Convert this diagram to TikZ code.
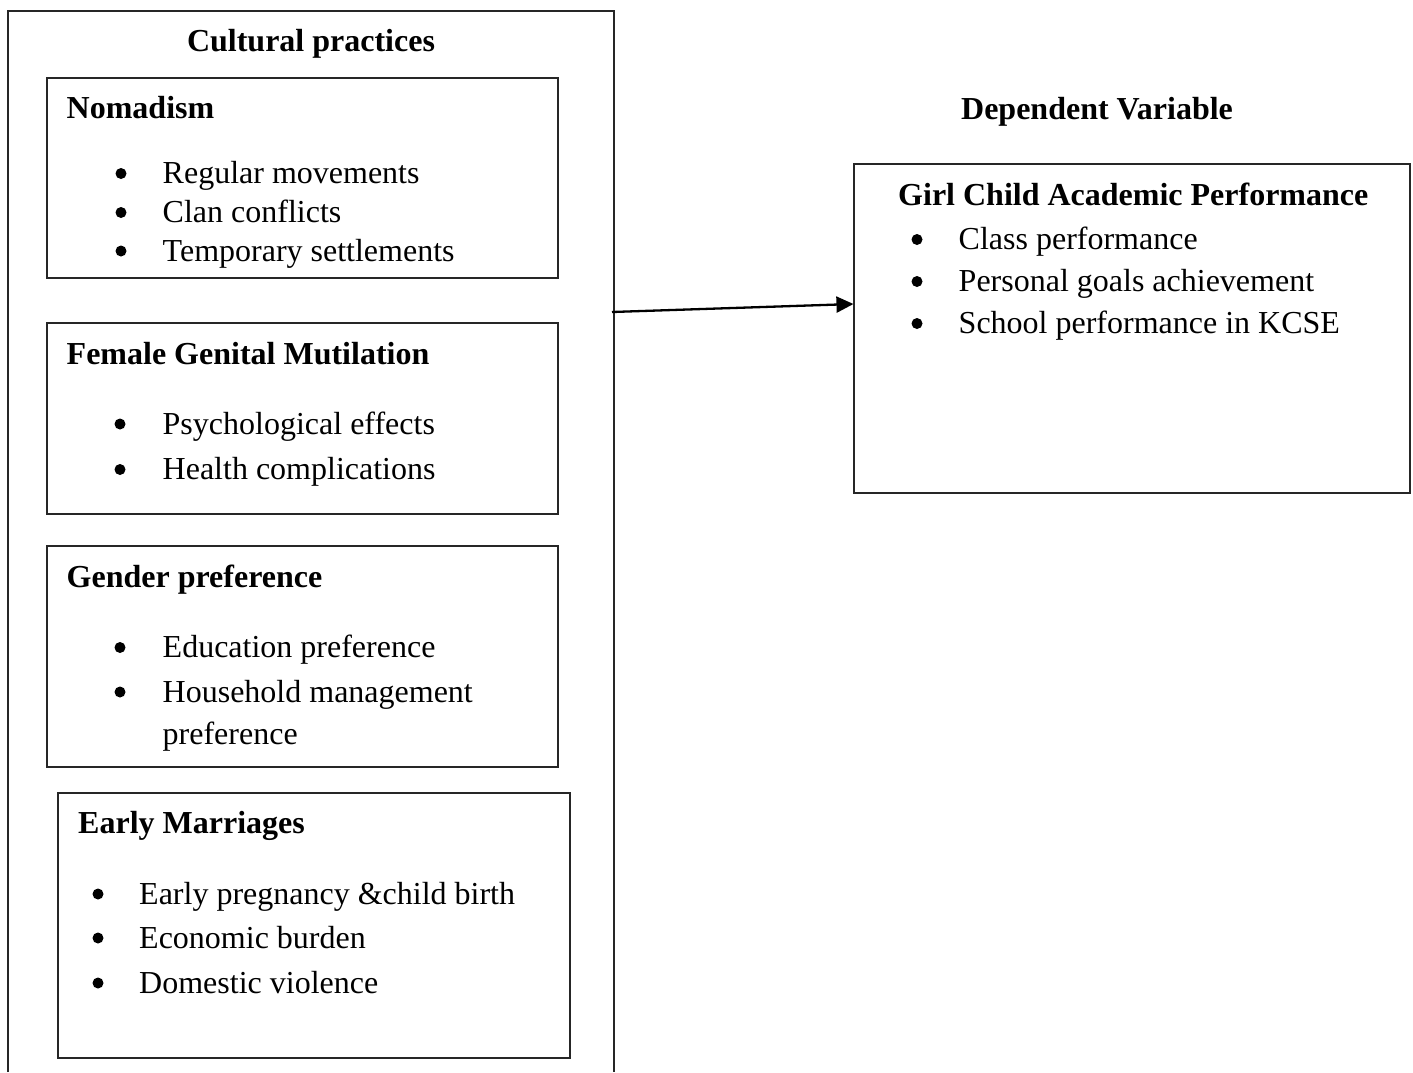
\documentclass[tikz,border=0pt]{standalone}
\usepackage{fontspec}
\setmainfont{Liberation Serif}
\usetikzlibrary{arrows.meta}

\begin{document}
\begin{tikzpicture}[x=1pt,y=-1pt,font=\fontsize{32}{38}\selectfont,
  box/.style={draw=black!85,line width=1.1pt,inner sep=0pt},
  head/.style={anchor=base west,inner sep=0pt,font=\fontsize{32}{38}\selectfont\bfseries},
  item/.style={anchor=base west,inner sep=0pt},
  dot/.style={circle,fill,inner sep=0pt,minimum size=11pt}]
\useasboundingbox (0,0) rectangle (1413,1072);
% outer frame runs past the bottom edge
\draw[draw=black!85,line width=1.1pt] (8,1072) -- (8,11) -- (614,11) -- (614,1072);
\node[head,anchor=base] (cult) at (311,51.5) {Cultural practices};
\node[box,minimum width=511pt,minimum height=200pt] (nom) at (302.5,178) {};
\node[box,minimum width=511pt,minimum height=191pt] (fgm) at (302.5,418.5) {};
\node[box,minimum width=511pt,minimum height=221pt] (gen) at (302.5,656.5) {};
\node[box,minimum width=512pt,minimum height=265pt] (early) at (314,925.5) {};
\node[head] (nom-h) at (66.5,118) {Nomadism};
\node[head] (fgm-h) at (66.5,364.5) {Female Genital Mutilation};
\node[head] (gen-h) at (66.5,587.5) {Gender preference};
\node[head] (early-h) at (78,833.5) {Early Marriages};
\foreach \y/\t [count=\i] in {183.5/Regular movements,222.5/Clan conflicts,261/Temporary settlements}{
  \node[dot] (nom-d\i) at (121,\y-10) {};
  \node[item] (nom-t\i) at (162.5,\y) {\t};
}
\foreach \y/\t [count=\i] in {434/Psychological effects,479.5/Health complications}{
  \node[dot] (fgm-d\i) at (120,\y-10) {};
  \node[item] (fgm-t\i) at (162.5,\y) {\t};
}
\foreach \y/\t [count=\i] in {657.5/Education preference,702/Household management}{
  \node[dot] (gen-d\i) at (120,\y-10) {};
  \node[item] (gen-t\i) at (162.5,\y) {\t};
}
\node[item] (gen-t3) at (162.5,744) {preference};
\foreach \y/\t [count=\i] in {904/Early pregnancy \&child birth,948/Economic burden,993/Domestic violence}{
  \node[dot] (early-d\i) at (98,\y-10) {};
  \node[item] (early-t\i) at (139,\y) {\t};
}
% dependent side
\node[head,anchor=base] (depvar) at (1097,119.5) {Dependent Variable};
\node[box,minimum width=556pt,minimum height=329pt] (dep) at (1132,328.5) {};
\node[head] (dep-h) at (898,205) {Girl Child Academic Performance};
\foreach \y/\t [count=\i] in {249.5/Class performance,291.5/Personal goals achievement,333.5/School performance in KCSE}{
  \node[dot] (dep-d\i) at (917,\y-10) {};
  \node[item] (dep-t\i) at (958.5,\y) {\t};
}
\coordinate (frameE) at (612,312);
\draw[-{Triangle[length=17pt,width=16pt]},line width=2.3pt] (frameE) -- ([yshift=24.5pt]dep.west);
\end{tikzpicture}
\end{document}
